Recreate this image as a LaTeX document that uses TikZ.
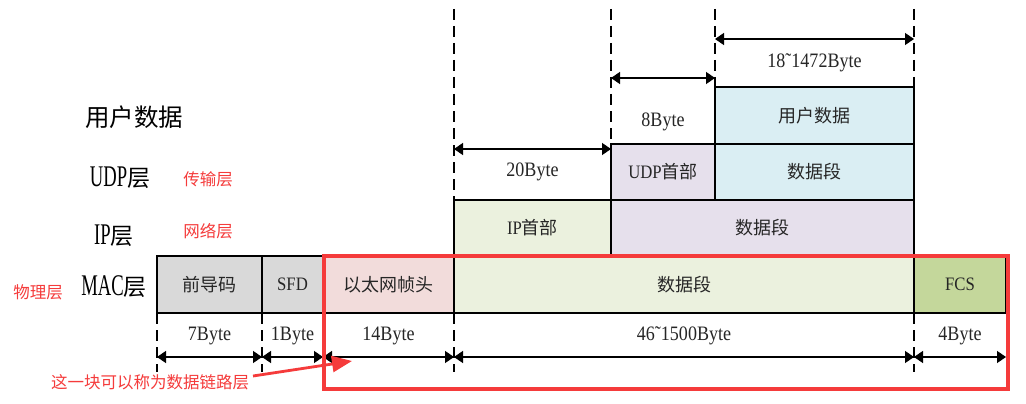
\documentclass[tikz,border=0pt]{standalone}
\usepackage{fontspec}
\usepackage{graphicx}
\setmainfont{Liberation Serif}[FakeStretch=0.88]
\newfontfamily\cjk{Noto Sans CJK SC}
\newfontfamily\wideserif{Liberation Serif}
\usetikzlibrary{arrows.meta}
\definecolor{cgray}{HTML}{D9D9D9}
\definecolor{cpink}{HTML}{F2DCDB}
\definecolor{cgreen}{HTML}{EBF1DE}
\definecolor{colive}{HTML}{C4D79B}
\definecolor{clav}{HTML}{E6E0EC}
\definecolor{cblue}{HTML}{DAEEF3}
\definecolor{cred}{HTML}{F53B3B}
\definecolor{txt}{HTML}{262626}
\newcommand{\cond}[2]{\scalebox{0.62}[1]{\fontsize{#1}{#1}\selectfont\wideserif #2}}
\begin{document}
\begin{tikzpicture}[x=1pt,y=-1pt,
  cell/.style={draw=black, line width=1.1pt, inner sep=0pt, outer sep=0pt, anchor=north west, text=txt, font=\fontsize{19}{21}\selectfont},
  dashline/.style={dash pattern=on 11pt off 6pt, line width=1.3pt},
  dim/.style={line width=1.4pt, {Triangle[length=9pt,width=12pt]}-{Triangle[length=9pt,width=12pt]}},
  lab/.style={font=\fontsize{20.5}{22}\selectfont, text=txt, inner sep=0pt},
  leftlab/.style={font=\fontsize{23}{26}\selectfont, text=black, inner sep=0pt},
  redlab/.style={font=\cjk\fontsize{16.5}{19}\selectfont, text=cred, inner sep=0pt}]
\useasboundingbox (0,0) rectangle (1026,404);
\fill[white] (0,0) rectangle (1026,404);

% left labels
\node[leftlab] (lUser) at (134,117) {\fontsize{24.5}{27}\selectfont\cjk 用户数据};
\node[leftlab] (lUDP) at (120,178) {\cond{30}{UDP}{\cjk 层}};
\node[leftlab] (lIP) at (114,236) {\cond{30}{IP}{\cjk 层}};
\node[leftlab] (lMAC) at (114,287) {\cond{30}{MAC}{\cjk 层}};
\node[redlab] (rTrans) at (208,179) {传输层};
\node[redlab] (rNet) at (208,231) {网络层};
\node[redlab] (rPhy) at (38,292) {物理层};

% cells
\node[cell, fill=cblue, minimum width=199pt, minimum height=57pt] (user) at (715,87) {\fontsize{18}{20}\selectfont\cjk 用户数据};
\node[cell, fill=clav, minimum width=104pt, minimum height=56pt] (udph) at (611,144) {UDP{\fontsize{18}{20}\selectfont\cjk 首部}};
\node[cell, fill=cblue, minimum width=199pt, minimum height=56pt] (udpd) at (715,144) {\fontsize{18}{20}\selectfont\cjk 数据段};
\node[cell, fill=cgreen, minimum width=157pt, minimum height=56pt] (iph) at (454,200) {IP{\fontsize{18}{20}\selectfont\cjk 首部}};
\node[cell, fill=clav, minimum width=303pt, minimum height=56pt] (ipd) at (611,200) {\fontsize{18}{20}\selectfont\cjk 数据段};
\node[cell, fill=cgray, minimum width=105pt, minimum height=57pt] (pre) at (157,256) {\fontsize{18}{20}\selectfont\cjk 前导码};
\node[cell, fill=cgray, minimum width=61pt, minimum height=57pt] (sfd) at (262,256) {SFD};
\node[cell, fill=cpink, minimum width=131pt, minimum height=57pt] (eth) at (323,256) {\fontsize{18}{20}\selectfont\cjk 以太网帧头};
\node[cell, fill=cgreen, minimum width=460pt, minimum height=57pt] (macd) at (454,256) {\fontsize{18}{20}\selectfont\cjk 数据段};
\node[cell, fill=colive, minimum width=92pt, minimum height=57pt] (fcs) at (914,256) {FCS};

% top dashed lines
\coordinate (t1) at (454,9);
\coordinate (t2) at (611,9);
\coordinate (t3) at (715,9);
\coordinate (t4) at (914,9);
\draw[dashline] (t1) -- (iph.north west);
\draw[dashline] (t2) -- (udph.north west);
\draw[dashline] (t3) -- (user.north west);
\draw[dashline] (t4) -- (user.north east);

% top dimension arrows
\coordinate (a1s) at (715,39); \coordinate (a1e) at (914,39);
\coordinate (a2s) at (611,78); \coordinate (a2e) at (715,78);
\coordinate (a3s) at (454,149); \coordinate (a3e) at (611,149);
\draw[dim] (a1s) -- (a1e);
\draw[dim] (a2s) -- (a2e);
\draw[dim] (a3s) -- (a3e);
\node[lab] (l1) at (814.5,63) {18˜1472Byte};
\node[lab] (l2) at (663,122) {8Byte};
\node[lab] (l3) at (532.5,172) {20Byte};

% bottom dashed lines
\coordinate (d0) at (157,372);
\coordinate (d1) at (262,372);
\coordinate (d2) at (323,372);
\coordinate (d3) at (454,372);
\coordinate (d4) at (914,372);
\draw[dashline] (pre.south west) -- (d0);
\draw[dashline] (sfd.south west) -- (d1);
\draw[dashline] (eth.south west) -- (d2);
\draw[dashline] (macd.south west) -- (d3);
\draw[dashline] (fcs.south west) -- (d4);

% bottom dimension arrows
\coordinate (b0) at (157,357);
\coordinate (b1) at (262,357);
\coordinate (b2) at (323,357);
\coordinate (b3) at (454,357);
\coordinate (b4) at (914,357);
\coordinate (b5) at (1006,357);
\draw[dim] (b0) -- (b1);
\draw[dim] (b1) -- (b2);
\draw[dim] (b2) -- (b3);
\draw[dim] (b3) -- (b4);
\draw[dim] (b4) -- (b5);
\node[lab] (m0) at (209.5,336) {7Byte};
\node[lab] (m1) at (292.5,336) {1Byte};
\node[lab] (m2) at (388.5,336) {14Byte};
\node[lab] (m3) at (684,336) {46˜1500Byte};
\node[lab] (m4) at (960,336) {4Byte};

% red data-link box and note
\node[draw=cred, line width=3.2pt, inner sep=0pt, outer sep=0pt, anchor=north west, minimum width=684pt, minimum height=133pt] (dlbox) at (324,256) {};
\node[redlab] (note) at (150,382) {这一块可以称为数据链路层};
\coordinate (rs) at (253,376);
\coordinate (rt) at (352,361);
\draw[cred, line width=2.8pt, -{Triangle[length=20pt,width=16pt]}] (rs) -- (rt);
\end{tikzpicture}
\end{document}
